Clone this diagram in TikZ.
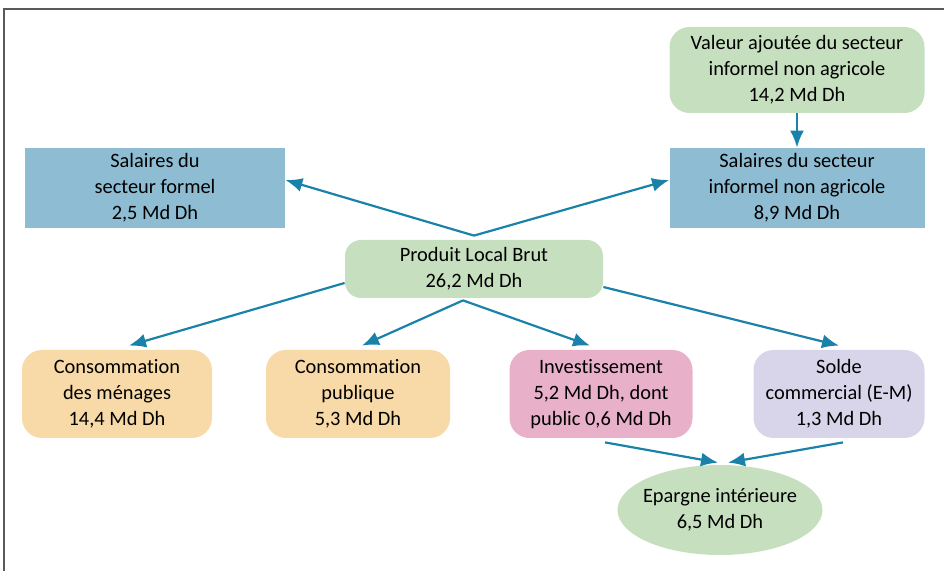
\documentclass[tikz,border=0pt]{standalone}
\usepackage{fontspec}
\setmainfont{Carlito}[Ligatures=NoCommon]
\usepackage{xcolor}
\usepackage{tikz}
\usetikzlibrary{arrows.meta,positioning,shapes.geometric}
\definecolor{vert}{HTML}{C6E0BF}
\definecolor{bleu}{HTML}{8EBDD3}
\definecolor{orange}{HTML}{F8D9A8}
\definecolor{rose}{HTML}{E9B0C9}
\definecolor{lavande}{HTML}{D8D5EA}
\definecolor{fleche}{HTML}{1A82A9}

\begin{document}
\begin{tikzpicture}[x=0.5pt,y=-0.5pt, every node/.style={font=\fontsize{10.2}{13}\selectfont,align=center,inner sep=0pt},
  carre/.style={fill=bleu,minimum height=40pt},
  arrondi/.style={rounded corners=10pt,minimum height=44pt},
  fl/.style={draw=fleche,line width=1.1pt,-{Latex[length=8.5pt,width=7pt]}}]
\useasboundingbox (0,0) rectangle (944,571);
\draw[gray!70!black,line width=0.6pt] (4,571) -- (4,9) -- (944,9);
\node[arrondi,fill=vert,minimum width=127.5pt,minimum height=43pt] (va) at (797,70) {Valeur ajoutée du secteur\\informel non agricole\\14,2 Md Dh};
\node[carre,minimum width=127.5pt] (si) at (797,188) {Salaires du secteur\\informel non agricole\\8,9 Md Dh};
\node[carre,minimum width=130pt] (sf) at (155,188) {Salaires du\\secteur formel\\2,5 Md Dh};
\node[arrondi,fill=vert,rounded corners=8pt,minimum width=129pt,minimum height=29pt] (plb) at (474,269) {Produit Local Brut\\26,2 Md Dh};
\node[arrondi,fill=orange,minimum width=95pt] (cm) at (117,394) {Consommation\\des ménages\\14,4 Md Dh};
\node[arrondi,fill=orange,minimum width=92pt] (cp) at (358,394) {Consommation\\publique\\5,3 Md Dh};
\node[arrondi,fill=rose,minimum width=91.5pt] (inv) at (601,394) {Investissement\\5,2 Md Dh, dont\\public 0,6 Md Dh};
\node[arrondi,fill=lavande,minimum width=85.5pt] (sc) at (839,394) {Solde\\commercial (E-M)\\1,3 Md Dh};
\node[ellipse,fill=vert,inner xsep=-5pt,inner ysep=-3pt,minimum width=102.5pt,minimum height=45pt] (ep) at (720,510) {Epargne intérieure\\6,5 Md Dh};
% flux
\draw[fl] (va) -- (si);
\draw[fl] ([yshift=2pt]plb.north) -- ([yshift=4pt]sf.east);
\draw[fl] ([yshift=2pt]plb.north) -- ([yshift=4pt]si.west);
\draw[fl] ([yshift=-7pt]plb.west) -- ([xshift=6pt,yshift=2pt]cm.north);
\draw[fl] ([xshift=-5.5pt,yshift=-1pt]plb.south) -- ([xshift=2pt,yshift=2pt]cp.north);
\draw[fl] ([xshift=-5.5pt,yshift=-1pt]plb.south) -- ([xshift=-5.5pt,yshift=2pt]inv.north);
\draw[fl] ([yshift=-9pt]plb.east) -- ([yshift=2pt]sc.north);
\draw[fl] ([xshift=2pt,yshift=-2pt]inv.south) -- ([xshift=-1pt,yshift=1pt]ep.north);
\draw[fl] ([xshift=2pt,yshift=-2pt]sc.south) -- ([xshift=4pt,yshift=1pt]ep.north);
\end{tikzpicture}
\end{document}
